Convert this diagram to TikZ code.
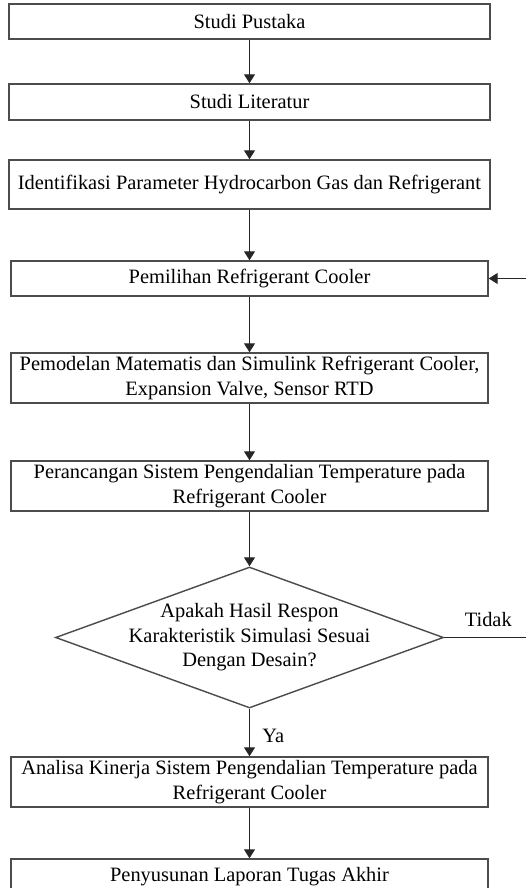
\documentclass[tikz,border=0pt]{standalone}
\usepackage{fontspec}
\setmainfont{Liberation Serif}
\usepackage{tikz}
\usetikzlibrary{arrows.meta,shapes.geometric}
\tikzstyle{stepbox}=[rectangle, draw=black!70, line width=0.85pt,% plain box
minimum width=286.2pt, minimum height=21pt, inner sep=2pt, align=center]
\tikzstyle{wide}=[minimum width=288.6pt]
\tikzstyle{tall}=[minimum height=30pt]
\tikzstyle{decide}=[diamond, draw=black!70, line width=0.85pt, shape aspect=2.75,% the question
inner sep=-6pt, minimum width=232.8pt, minimum height=84.6pt, align=center]
\tikzstyle{flow}=[-{Triangle[width=6.6pt,length=5.4pt]}, line width=0.75pt, draw=black!85]

\begin{document}
\begin{tikzpicture}[x=0.6pt,y=-0.6pt,font=\fontsize{12.25pt}{14.7pt}\selectfont]
\useasboundingbox (0,0) rectangle (526,888);

\node[stepbox, wide] (pustaka) at (249.5,21.5) {Studi Pustaka};
\node[stepbox, wide, minimum height=21.6pt] (literatur) at (249.5,102) {Studi Literatur};
\node[stepbox, wide, minimum height=29.4pt] (identifikasi) at (249.5,184.5) {Identifikasi Parameter Hydrocarbon Gas dan Refrigerant};
\node[stepbox] (pemilihan) at (249.5,278.5) {Pemilihan Refrigerant Cooler};
\node[stepbox, tall] (pemodelan) at (249.5,378) {Pemodelan Matematis dan Simulink Refrigerant Cooler,\\ Expansion Valve, Sensor RTD};
\node[stepbox, tall] (perancangan) at (249.5,486) {Perancangan Sistem Pengendalian Temperature pada\\ Refrigerant Cooler};
\node[decide] (cek) at (249.5,637.5) {Apakah Hasil Respon\\ Karakteristik Simulasi Sesuai\\ Dengan Desain?};
\node[stepbox, tall] (analisa) at (249.5,782) {Analisa Kinerja Sistem Pengendalian Temperature pada\\ Refrigerant Cooler};
\node[stepbox] (penyusunan) at (249.5,876.5) {Penyusunan Laporan Tugas Akhir};

\coordinate (balik) at (540,637.5);

\draw[flow] (pustaka) -- (literatur);
\draw[flow] (literatur) -- (identifikasi);
\draw[flow] (identifikasi) -- (pemilihan);
\draw[flow] (pemilihan) -- (pemodelan);
\draw[flow] (pemodelan) -- (perancangan);
\draw[flow] (perancangan.south) -- (cek.north);
\draw[flow] (cek.south) -- (analisa) node[pos=0.57, right=4pt] {Ya};
\draw[flow] (analisa) -- (penyusunan);
\draw[flow] (cek.east) -- (balik) node[pos=0.46, above=3pt] {Tidak} |- (pemilihan.east);

\end{tikzpicture}
\end{document}
